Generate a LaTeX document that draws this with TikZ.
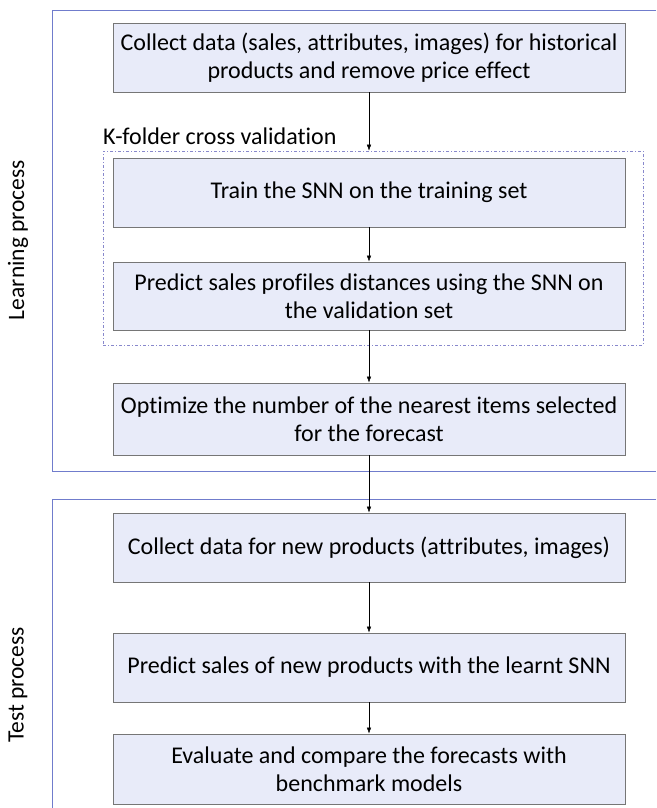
\documentclass[tikz,border=0pt]{standalone}
\usepackage{fontspec}
\setmainfont{Carlito}[Ligatures=NoCommon]
\usepackage{xcolor}
\usetikzlibrary{arrows.meta}

\definecolor{boxfill}{RGB}{232,235,249}
\definecolor{boxline}{RGB}{118,118,118}
\definecolor{framecol}{RGB}{112,124,204}
\definecolor{kfoldcol}{RGB}{136,136,204}

\tikzset{
  procbox/.style={draw=boxline, fill=boxfill, line width=0.9pt, minimum width=512pt,
    align=center, inner sep=0pt, font=\fontsize{24}{28}\selectfont},
  frameline/.style={draw=framecol, line width=0.9pt},
  kfoldbox/.style={draw=kfoldcol, line width=0.7pt, dash pattern=on 3pt off 2pt on 1pt off 2pt,
    minimum width=540pt, minimum height=194pt, inner sep=0pt},
  sidelabel/.style={rotate=90, font=\fontsize{23.5}{27}\selectfont}
}

\begin{document}
\begin{tikzpicture}[x=1pt, y=-1pt, >={Latex[length=6pt,width=4.5pt]}]
  \useasboundingbox (0,0) rectangle (656,808);

  % frames of the two stages
  \draw[frameline] (656,10) -- (52,10) -- (52,471) -- (656,471);
  \draw[frameline] (656,499) -- (52,499) -- (52,808);
  \node[sidelabel] (learnlbl) at (18,240) {Learning process};
  \node[sidelabel] (testlbl) at (18,685) {Test process};

  % learning process
  \node[procbox, minimum height=69pt] (collect) at (369,57.5)
    {Collect data (sales, attributes, images) for historical\\products and remove price effect};
  \node[kfoldbox] (kfold) at (373,248) {};
  \node[anchor=south west, inner sep=0pt, font=\fontsize{24}{28}\selectfont] (kfoldlbl) at (103,145)
    {K-folder cross validation};
  \node[procbox, minimum height=69pt] (train) at (369,192.5) {Train the SNN on the training set};
  \node[procbox, minimum height=68pt] (predval) at (369,296)
    {Predict sales profiles distances using the SNN on\\the validation set};
  \node[procbox, minimum height=72pt] (optim) at (369,419)
    {Optimize the number of the nearest items selected\\for the forecast};

  % test process
  \node[procbox, minimum height=69pt] (collnew) at (369,547.5)
    {Collect data for new products (attributes, images)};
  \node[procbox, minimum height=69pt] (prednew) at (369,667.5)
    {Predict sales of new products with the learnt SNN};
  \node[procbox, minimum height=70pt] (evalf) at (369,769)
    {Evaluate and compare the forecasts with\\benchmark models};

  % connectors
  \draw[->] (collect.south) -- (collect.south |- kfold.north);
  \draw[->] (train) -- (predval);
  \draw[->] (predval) -- (optim);
  \draw[->] (optim) -- (collnew);
  \draw[->] (collnew) -- (prednew);
  \draw[->] (prednew) -- (evalf);
\end{tikzpicture}
\end{document}
